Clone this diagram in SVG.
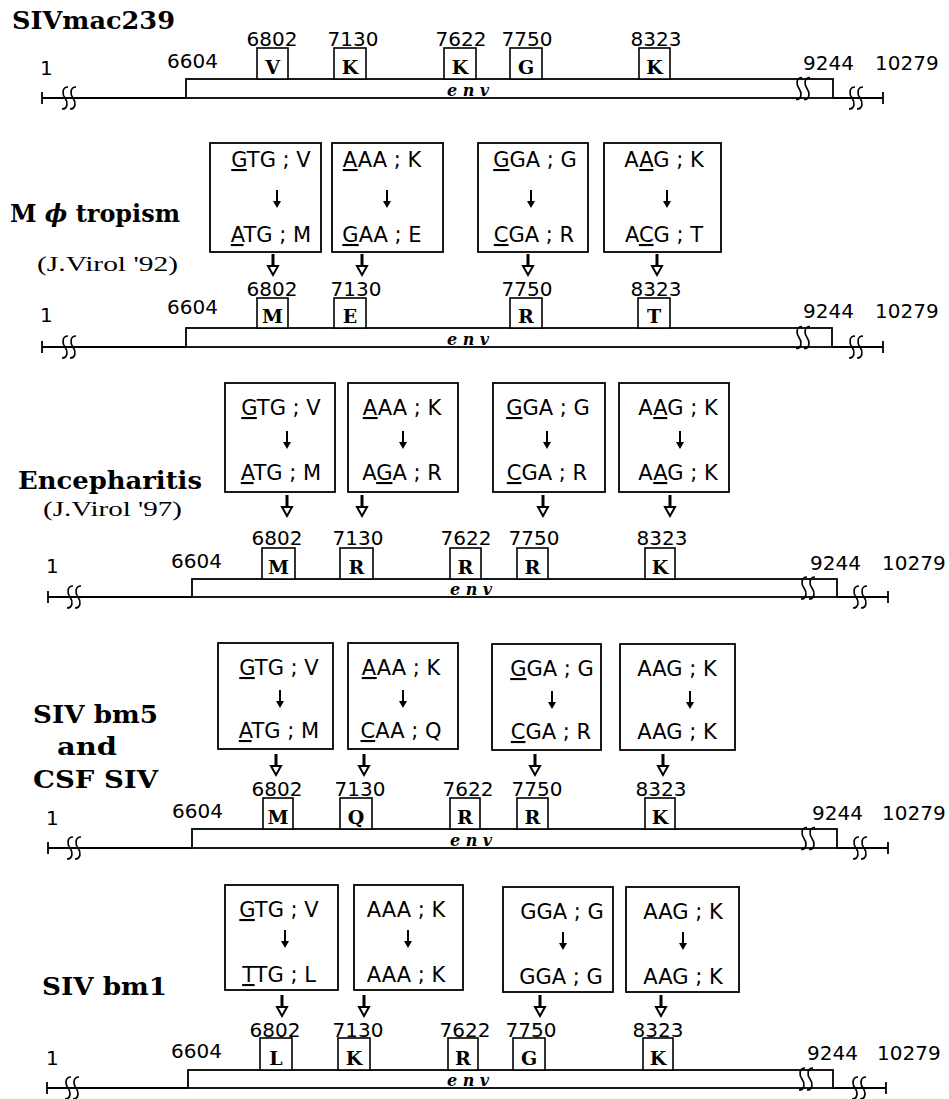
<svg xmlns="http://www.w3.org/2000/svg" xmlns:xlink="http://www.w3.org/1999/xlink" width="949" height="1099" viewBox="0 0 949 1099">
<style>
.num{font-family:"DejaVu Sans",sans-serif;font-size:20px;fill:#000}
.mid{text-anchor:middle}
.end{text-anchor:end}
.aa{font-family:"DejaVu Serif",serif;font-weight:bold;font-size:19px;text-anchor:middle;fill:#000}
.cod{font-family:"DejaVu Sans",sans-serif;font-size:21px;text-anchor:middle;fill:#000}
.title{font-family:"DejaVu Serif",serif;font-weight:bold;font-size:25px;fill:#000}
.ref{font-family:"Liberation Serif",serif;font-size:21px;fill:#000}
.env{font-family:"DejaVu Serif",serif;font-weight:bold;font-style:italic;font-size:16px;text-anchor:middle;fill:#000}
.box{fill:#fff;stroke:#000;stroke-width:1.6}
.mbox{fill:#fff;stroke:#000;stroke-width:1.8}
.bar{fill:#fff;stroke:#000;stroke-width:1.8}
.ln{stroke:#000;stroke-width:1.8;fill:none}
.sq{stroke:#000;stroke-width:1.7;fill:none}
</style>
<defs>
<g id="dn"><line x1="0" y1="0" x2="0" y2="13" stroke="#000" stroke-width="3"/><path d="M-5,12 L5,12 L0,21 Z" fill="#fff" stroke="#000" stroke-width="2"/></g>
<g id="thin"><line x1="0" y1="0" x2="0" y2="13" stroke="#000" stroke-width="2"/><path d="M-4,11 L4,11 L0,18 Z" fill="#000"/></g>
<path id="brk" class="sq" d="M0,-11 C-6,-11 -6,-4 -3,0 C0,4 0,11 -6,11 M8,-11 C2,-11 2,-4 5,0 C8,4 8,11 2,11"/>
</defs>

<!-- ===== Section 1: SIVmac239 ===== -->
<g id="sec1">
<text id="title1" class="title" x="12" y="29" textLength="163" lengthAdjust="spacingAndGlyphs">SIVmac239</text>
<g id="s1-axis">
<line class="ln" x1="42" y1="98" x2="186" y2="98"/><line class="ln" x1="42" y1="92" x2="42" y2="104"/>
<use xlink:href="#brk" x="68" y="98"/>
<rect class="bar" x="186" y="79" width="647" height="19"/>
<use xlink:href="#brk" x="802" y="88.5"/>
<line class="ln" x1="833" y1="98" x2="883" y2="98"/><line class="ln" x1="883" y1="92" x2="883" y2="104"/>
<use xlink:href="#brk" x="855" y="98"/>
<text class="env" x="468" y="96">e  n  v</text>
<text class="num" x="40" y="75">1</text>
<text class="num end" x="218" y="68">6604</text>
<text class="num" x="803" y="70">9244</text>
<text class="num" x="875" y="70">10279</text>
</g>
<g id="s1-6802"><text class="num mid" x="272" y="46">6802</text><rect class="box" x="257" y="48" width="31" height="31"/><text class="aa" x="272.5" y="74">V</text></g>
<g id="s1-7130"><text class="num mid" x="353" y="46">7130</text><rect class="box" x="334" y="48" width="32" height="31"/><text class="aa" x="350" y="74">K</text></g>
<g id="s1-7622"><text class="num mid" x="461" y="46">7622</text><rect class="box" x="444" y="48" width="32" height="31"/><text class="aa" x="460" y="74">K</text></g>
<g id="s1-7750"><text class="num mid" x="527" y="46">7750</text><rect class="box" x="510" y="48" width="32" height="31"/><text class="aa" x="526" y="74">G</text></g>
<g id="s1-8323"><text class="num mid" x="656" y="46">8323</text><rect class="box" x="639" y="48" width="31" height="31"/><text class="aa" x="654.5" y="74">K</text></g>
</g>

<!-- ===== Section 2: M phi tropism ===== -->
<g id="sec2">
<text id="title2" class="title" x="10" y="222" textLength="170" lengthAdjust="spacingAndGlyphs">M <tspan font-style="italic">ϕ</tspan> tropism</text>
<text id="ref2" class="ref" x="37" y="271" textLength="141" lengthAdjust="spacingAndGlyphs">(J.Virol  '92)</text>
<g id="s2-m1"><rect class="mbox" x="210" y="143" width="111" height="109"/>
<text class="cod" x="271" y="167"><tspan text-decoration="underline">G</tspan>TG ; V</text>
<use xlink:href="#thin" x="277" y="190"/>
<text class="cod" x="271" y="242"><tspan text-decoration="underline">A</tspan>TG ; M</text></g>
<g id="s2-m2"><rect class="mbox" x="332" y="143" width="111" height="109"/>
<text class="cod" x="382" y="167"><tspan text-decoration="underline">A</tspan>AA ; K</text>
<use xlink:href="#thin" x="387" y="190"/>
<text class="cod" x="382" y="242"><tspan text-decoration="underline">G</tspan>AA ; E</text></g>
<g id="s2-m3"><rect class="mbox" x="478" y="143" width="110" height="109"/>
<text class="cod" x="535" y="167"><tspan text-decoration="underline">G</tspan>GA ; G</text>
<use xlink:href="#thin" x="531" y="190"/>
<text class="cod" x="534" y="242"><tspan text-decoration="underline">C</tspan>GA ; R</text></g>
<g id="s2-m4"><rect class="mbox" x="604" y="143" width="117" height="109"/>
<text class="cod" x="664" y="167">A<tspan text-decoration="underline">A</tspan>G ; K</text>
<use xlink:href="#thin" x="667" y="190"/>
<text class="cod" x="664" y="242">A<tspan text-decoration="underline">C</tspan>G ; T</text></g>
<g id="s2-axis">
<line class="ln" x1="42" y1="347" x2="186" y2="347"/><line class="ln" x1="42" y1="341" x2="42" y2="353"/>
<use xlink:href="#brk" x="68" y="347"/>
<rect class="bar" x="186" y="328" width="646" height="19"/>
<use xlink:href="#brk" x="802" y="337.5"/>
<line class="ln" x1="832" y1="347" x2="883" y2="347"/><line class="ln" x1="883" y1="341" x2="883" y2="353"/>
<use xlink:href="#brk" x="855" y="347"/>
<text class="env" x="468" y="345">e  n  v</text>
<text class="num" x="40" y="322">1</text>
<text class="num end" x="218" y="314">6604</text>
<text class="num" x="803" y="318">9244</text>
<text class="num" x="875" y="318">10279</text>
</g>
<g id="s2-6802"><text class="num mid" x="272" y="296">6802</text><rect class="box" x="257" y="298" width="31" height="30"/><text class="aa" x="272.5" y="323">M</text></g>
<g id="s2-7130"><text class="num mid" x="356" y="296">7130</text><rect class="box" x="334" y="298" width="32" height="30"/><text class="aa" x="350" y="323">E</text></g>
<g id="s2-7750"><text class="num mid" x="527" y="296">7750</text><rect class="box" x="510" y="298" width="32" height="30"/><text class="aa" x="526" y="323">R</text></g>
<g id="s2-8323"><text class="num mid" x="656" y="296">8323</text><rect class="box" x="638" y="298" width="32" height="30"/><text class="aa" x="654" y="323">T</text></g>
</g>

<!-- ===== Section 3: Encepharitis ===== -->
<g id="sec3">
<text id="title3" class="title" x="18" y="489" textLength="184" lengthAdjust="spacingAndGlyphs">Encepharitis</text>
<text id="ref3" class="ref" x="43" y="516" textLength="139" lengthAdjust="spacingAndGlyphs">(J.Virol  '97)</text>
<g id="s3-m1"><rect class="mbox" x="225" y="383" width="110" height="109"/>
<text class="cod" x="281" y="415"><tspan text-decoration="underline">G</tspan>TG ; V</text>
<use xlink:href="#thin" x="287" y="431"/>
<text class="cod" x="281" y="480"><tspan text-decoration="underline">A</tspan>TG ; M</text></g>
<g id="s3-m2"><rect class="mbox" x="348" y="383" width="110" height="109"/>
<text class="cod" x="402" y="415"><tspan text-decoration="underline">A</tspan>AA ; K</text>
<use xlink:href="#thin" x="403" y="431"/>
<text class="cod" x="402" y="480">A<tspan text-decoration="underline">G</tspan>A ; R</text></g>
<g id="s3-m3"><rect class="mbox" x="493" y="383" width="112" height="109"/>
<text class="cod" x="548" y="415"><tspan text-decoration="underline">G</tspan>GA ; G</text>
<use xlink:href="#thin" x="547" y="431"/>
<text class="cod" x="547" y="480"><tspan text-decoration="underline">C</tspan>GA ; R</text></g>
<g id="s3-m4"><rect class="mbox" x="619" y="383" width="110" height="109"/>
<text class="cod" x="678" y="415">A<tspan text-decoration="underline">A</tspan>G ; K</text>
<use xlink:href="#thin" x="680" y="431"/>
<text class="cod" x="678" y="480">A<tspan text-decoration="underline">A</tspan>G ; K</text></g>
<g id="s3-axis">
<line class="ln" x1="48" y1="597" x2="192" y2="597"/><line class="ln" x1="48" y1="591" x2="48" y2="603"/>
<use xlink:href="#brk" x="73" y="597"/>
<rect class="bar" x="192" y="579" width="645" height="18"/>
<use xlink:href="#brk" x="807" y="588"/>
<line class="ln" x1="837" y1="597" x2="888" y2="597"/><line class="ln" x1="888" y1="591" x2="888" y2="603"/>
<use xlink:href="#brk" x="859" y="597"/>
<text class="env" x="471" y="595">e  n  v</text>
<text class="num" x="46" y="573">1</text>
<text class="num end" x="222" y="568">6604</text>
<text class="num" x="810" y="570">9244</text>
<text class="num" x="882" y="570">10279</text>
</g>
<g id="s3-6802"><text class="num mid" x="277" y="545">6802</text><rect class="box" x="262" y="548" width="33" height="31"/><text class="aa" x="278.5" y="574">M</text></g>
<g id="s3-7130"><text class="num mid" x="358" y="545">7130</text><rect class="box" x="340" y="548" width="33" height="31"/><text class="aa" x="356.5" y="574">R</text></g>
<g id="s3-7622"><text class="num mid" x="466" y="545">7622</text><rect class="box" x="450" y="548" width="31" height="31"/><text class="aa" x="465.5" y="574">R</text></g>
<g id="s3-7750"><text class="num mid" x="534" y="545">7750</text><rect class="box" x="517" y="548" width="31" height="31"/><text class="aa" x="532.5" y="574">R</text></g>
<g id="s3-8323"><text class="num mid" x="662" y="545">8323</text><rect class="box" x="645" y="548" width="30" height="31"/><text class="aa" x="660" y="574">K</text></g>
</g>

<!-- ===== Section 4: SIV bm5 and CSF SIV ===== -->
<g id="sec4">
<text id="title4a" class="title" x="33" y="723" textLength="125" lengthAdjust="spacingAndGlyphs">SIV bm5</text>
<text id="title4b" class="title" x="57" y="755" textLength="60" lengthAdjust="spacingAndGlyphs">and</text>
<text id="title4c" class="title" x="33" y="788" textLength="125" lengthAdjust="spacingAndGlyphs">CSF SIV</text>
<g id="s4-m1"><rect class="mbox" x="218" y="643" width="115" height="106"/>
<text class="cod" x="279" y="675"><tspan text-decoration="underline">G</tspan>TG ; V</text>
<use xlink:href="#thin" x="280" y="690"/>
<text class="cod" x="279" y="738"><tspan text-decoration="underline">A</tspan>TG ; M</text></g>
<g id="s4-m2"><rect class="mbox" x="348" y="643" width="110" height="106"/>
<text class="cod" x="401" y="675"><tspan text-decoration="underline">A</tspan>AA ; K</text>
<use xlink:href="#thin" x="403" y="690"/>
<text class="cod" x="401" y="738"><tspan text-decoration="underline">C</tspan>AA ; Q</text></g>
<g id="s4-m3"><rect class="mbox" x="492" y="644" width="109" height="106"/>
<text class="cod" x="552" y="676"><tspan text-decoration="underline">G</tspan>GA ; G</text>
<use xlink:href="#thin" x="552" y="691"/>
<text class="cod" x="551" y="739"><tspan text-decoration="underline">C</tspan>GA ; R</text></g>
<g id="s4-m4"><rect class="mbox" x="620" y="644" width="115" height="106"/>
<text class="cod" x="677" y="676">AAG ; K</text>
<use xlink:href="#thin" x="690" y="691"/>
<text class="cod" x="677" y="739">AAG ; K</text></g>
<g id="s4-axis">
<line class="ln" x1="48" y1="848" x2="192" y2="848"/><line class="ln" x1="48" y1="842" x2="48" y2="854"/>
<use xlink:href="#brk" x="73" y="848"/>
<rect class="bar" x="192" y="829" width="645" height="19"/>
<use xlink:href="#brk" x="807" y="838.5"/>
<line class="ln" x1="837" y1="848" x2="888" y2="848"/><line class="ln" x1="888" y1="842" x2="888" y2="854"/>
<use xlink:href="#brk" x="859" y="848"/>
<text class="env" x="471" y="846">e  n  v</text>
<text class="num" x="46" y="825">1</text>
<text class="num end" x="223" y="818">6604</text>
<text class="num" x="812" y="820">9244</text>
<text class="num" x="882" y="820">10279</text>
</g>
<g id="s4-6802"><text class="num mid" x="277" y="796">6802</text><rect class="box" x="263" y="798" width="30" height="31"/><text class="aa" x="278" y="824">M</text></g>
<g id="s4-7130"><text class="num mid" x="360" y="796">7130</text><rect class="box" x="340" y="798" width="32" height="31"/><text class="aa" x="356" y="824">Q</text></g>
<g id="s4-7622"><text class="num mid" x="468" y="796">7622</text><rect class="box" x="450" y="798" width="30" height="31"/><text class="aa" x="465" y="824">R</text></g>
<g id="s4-7750"><text class="num mid" x="537" y="796">7750</text><rect class="box" x="517" y="798" width="31" height="31"/><text class="aa" x="532.5" y="824">R</text></g>
<g id="s4-8323"><text class="num mid" x="661" y="796">8323</text><rect class="box" x="645" y="798" width="30" height="31"/><text class="aa" x="660" y="824">K</text></g>
</g>

<!-- ===== Section 5: SIV bm1 ===== -->
<g id="sec5">
<text id="title5" class="title" x="42" y="995" textLength="125" lengthAdjust="spacingAndGlyphs">SIV bm1</text>
<g id="s5-m1"><rect class="mbox" x="225" y="885" width="113" height="105"/>
<text class="cod" x="279" y="917"><tspan text-decoration="underline">G</tspan>TG ; V</text>
<use xlink:href="#thin" x="285" y="930"/>
<text class="cod" x="279" y="982"><tspan text-decoration="underline">T</tspan>TG ; L</text></g>
<g id="s5-m2"><rect class="mbox" x="354" y="885" width="109" height="105"/>
<text class="cod" x="406" y="917">AAA ; K</text>
<use xlink:href="#thin" x="408" y="930"/>
<text class="cod" x="406" y="982">AAA ; K</text></g>
<g id="s5-m3"><rect class="mbox" x="503" y="887" width="110" height="105"/>
<text class="cod" x="562" y="919">GGA ; G</text>
<use xlink:href="#thin" x="563" y="932"/>
<text class="cod" x="561" y="984">GGA ; G</text></g>
<g id="s5-m4"><rect class="mbox" x="626" y="887" width="113" height="105"/>
<text class="cod" x="683" y="919">AAG ; K</text>
<use xlink:href="#thin" x="683" y="932"/>
<text class="cod" x="683" y="984">AAG ; K</text></g>
<g id="s5-axis">
<line class="ln" x1="47" y1="1088" x2="188" y2="1088"/><line class="ln" x1="47" y1="1082" x2="47" y2="1094"/>
<use xlink:href="#brk" x="71" y="1088"/>
<rect class="bar" x="188" y="1070" width="645" height="18"/>
<use xlink:href="#brk" x="805" y="1079"/>
<line class="ln" x1="833" y1="1088" x2="886" y2="1088"/><line class="ln" x1="886" y1="1082" x2="886" y2="1094"/>
<use xlink:href="#brk" x="858" y="1088"/>
<text class="env" x="468" y="1086">e  n  v</text>
<text class="num" x="46" y="1065">1</text>
<text class="num end" x="222" y="1058">6604</text>
<text class="num" x="807" y="1060">9244</text>
<text class="num" x="877" y="1060">10279</text>
</g>
<g id="s5-6802"><text class="num mid" x="275" y="1037">6802</text><rect class="box" x="260" y="1038" width="32" height="32"/><text class="aa" x="276" y="1065">L</text></g>
<g id="s5-7130"><text class="num mid" x="358" y="1037">7130</text><rect class="box" x="338" y="1038" width="32" height="32"/><text class="aa" x="354" y="1065">K</text></g>
<g id="s5-7622"><text class="num mid" x="465" y="1037">7622</text><rect class="box" x="448" y="1038" width="30" height="32"/><text class="aa" x="463" y="1065">R</text></g>
<g id="s5-7750"><text class="num mid" x="531" y="1037">7750</text><rect class="box" x="513" y="1038" width="32" height="32"/><text class="aa" x="529" y="1065">G</text></g>
<g id="s5-8323"><text class="num mid" x="658" y="1037">8323</text><rect class="box" x="643" y="1038" width="30" height="32"/><text class="aa" x="658" y="1065">K</text></g>
</g>

<!-- ===== Connectors ===== -->
<g id="connectors">
<use xlink:href="#dn" x="273" y="254"/><use xlink:href="#dn" x="362" y="254"/><use xlink:href="#dn" x="528" y="254"/><use xlink:href="#dn" x="657" y="254"/>
<use xlink:href="#dn" x="287" y="495"/><use xlink:href="#dn" x="362" y="495"/><use xlink:href="#dn" x="543" y="495"/><use xlink:href="#dn" x="670" y="495"/>
<use xlink:href="#dn" x="276" y="754"/><use xlink:href="#dn" x="364" y="754"/><use xlink:href="#dn" x="535" y="754"/><use xlink:href="#dn" x="663" y="754"/>
<use xlink:href="#dn" x="282" y="995"/><use xlink:href="#dn" x="364" y="995"/><use xlink:href="#dn" x="540" y="995"/><use xlink:href="#dn" x="661" y="995"/>
</g>
</svg>
